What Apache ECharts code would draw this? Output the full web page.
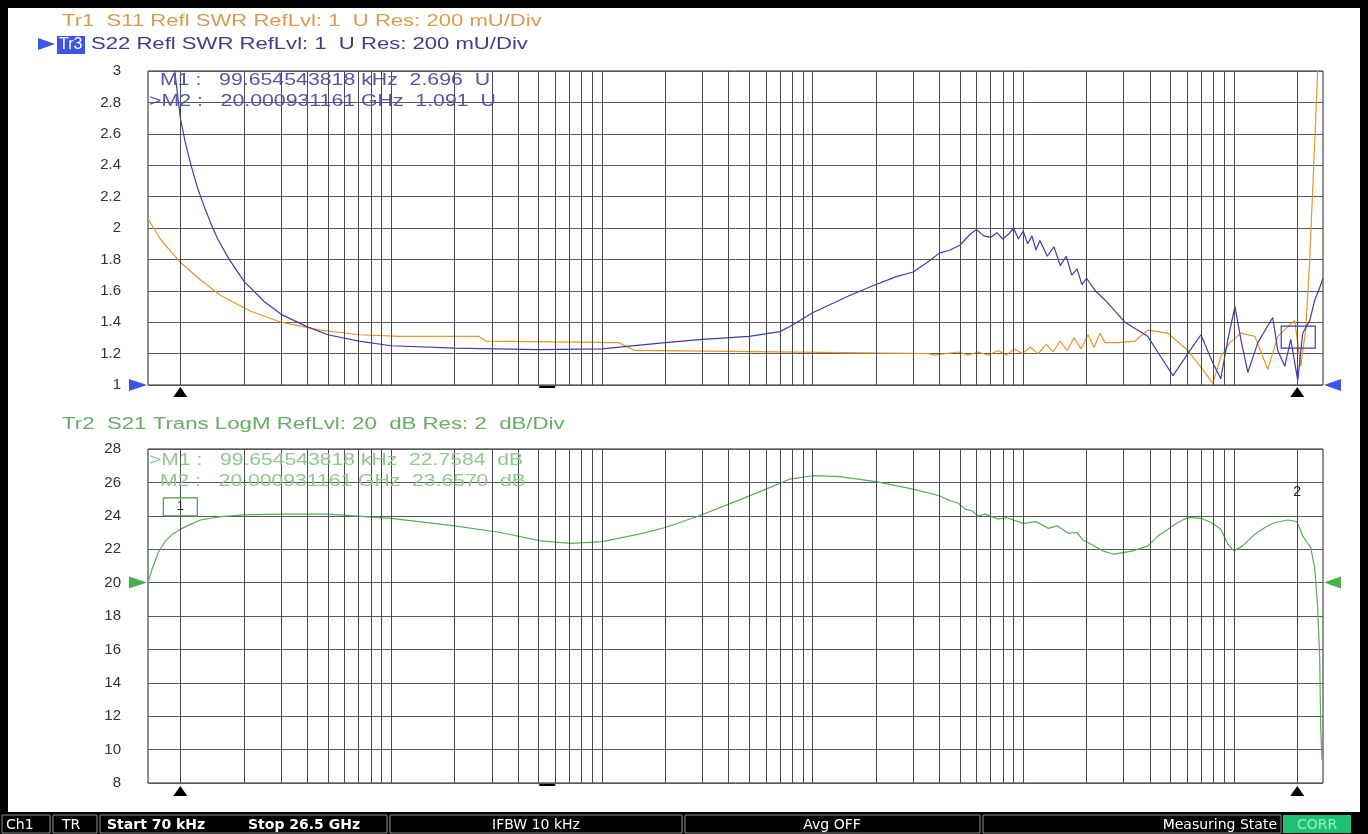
<!DOCTYPE html>
<html>
<head>
<meta charset="utf-8">
<title>S11 / S22 / S21 sweep</title>
<script src="https://cdn.jsdelivr.net/npm/echarts@6/dist/echarts.min.js"></script>
<style>
html, body { margin: 0; padding: 0; background: #000; }
#main { width: 1368px; height: 834px; }
</style>
</head>
<body>
<div id="main"></div>
<script>
// frequencies in MHz, sweep 70 kHz .. 26.5 GHz (log)
var s11Freq = [0.07, 0.08, 0.09, 0.1, 0.124, 0.155, 0.215, 0.3, 0.46, 0.71, 1.1, 2.6, 2.8, 12, 14.3, 87, 355,
    378, 492, 548, 611, 683, 761, 831, 906, 988, 1079, 1178, 1285, 1388, 1497, 1616, 1744, 1883, 2033, 2170,
    2318, 2446, 2820, 3393, 3911, 4863, 6053, 7290, 7950, 8674, 9577, 10800, 12580, 14490, 16170, 18030,
    19460, 20780, 21940, 22920, 23940, 25010, 26000];
var s11Swr = [2.06, 1.93, 1.85, 1.78, 1.67, 1.57, 1.47, 1.40, 1.35, 1.32, 1.31, 1.31, 1.28, 1.27, 1.22, 1.21, 1.20,
    1.19, 1.21, 1.19, 1.21, 1.19, 1.22, 1.19, 1.23, 1.20, 1.24, 1.20, 1.26, 1.21, 1.28, 1.22, 1.30, 1.23, 1.32, 1.24,
    1.33, 1.27, 1.27, 1.28, 1.35, 1.33, 1.22, 1.08, 1.01, 1.18, 1.27, 1.33, 1.31, 1.10, 1.31, 1.37,
    1.41, 1.12, 1.35, 1.80, 2.40, 3.0, 3.4];

var s22Freq = [0.07, 0.09, 0.0997, 0.105, 0.112, 0.12, 0.13, 0.14, 0.15, 0.17, 0.2, 0.25, 0.3, 0.4, 0.5, 0.7, 1, 2, 5,
    10, 20, 30, 50, 70, 80, 100, 150, 200, 250, 300, 350, 400, 450, 500, 560, 600, 650, 700, 750, 800, 850, 900,
    950, 1000, 1050, 1100, 1150, 1200, 1300, 1400, 1500, 1600, 1700, 1800, 1900, 2000, 2200, 2450, 3040, 3900,
    4500, 5140, 6050, 6980, 7950, 8670, 9370, 10120, 10800, 11650, 13000, 15300, 16170, 17450, 18630, 20110,
    21230, 22920, 24200, 25560, 26500];
var s22Swr = [4.6, 3.2, 2.7, 2.55, 2.40, 2.26, 2.13, 2.02, 1.93, 1.80, 1.66, 1.53, 1.45, 1.37, 1.32, 1.28, 1.25, 1.235, 1.225,
    1.23, 1.27, 1.29, 1.31, 1.34, 1.38, 1.46, 1.57, 1.64, 1.69, 1.72, 1.78, 1.84, 1.86, 1.89, 1.96, 1.99, 1.95, 1.94, 1.97, 1.93, 1.96, 2.0,
    1.93, 1.98, 1.90, 1.95, 1.86, 1.92, 1.82, 1.88, 1.76, 1.82, 1.70, 1.74, 1.64, 1.68, 1.60, 1.54, 1.40, 1.31,
    1.18, 1.06, 1.20, 1.32, 1.14, 1.04, 1.29, 1.50, 1.29, 1.08, 1.27, 1.43, 1.22, 1.12, 1.29, 1.03,
    1.33, 1.41, 1.54, 1.62, 1.68];

var s21Freq = [0.07, 0.0732, 0.0783, 0.0847, 0.0915, 0.1, 0.112, 0.124, 0.155, 0.2, 0.3, 0.5, 1, 2, 3.3, 5.1, 7.1, 10,
    15, 20, 29, 46, 63, 78, 100, 134, 200, 300, 400, 450, 492, 530, 570, 611, 660, 761, 830, 1000, 1150, 1313,
    1450, 1634, 1800, 1924, 2033, 2390, 2676, 2980, 3320, 3911, 4370, 4863, 5420, 6053, 6977, 7800, 8674, 9370,
    10000, 11000, 12580, 14040, 15650, 18030, 19900, 21230, 23170, 24200, 25010, 25560, 25850, 26200];
var s21Db = [20.0, 20.8, 21.8, 22.5, 22.9, 23.2, 23.5, 23.75, 23.95, 24.05, 24.1, 24.1, 23.85, 23.4, 23.0, 22.5, 22.35, 22.45,
    22.9, 23.3, 24.0, 25.0, 25.7, 26.2, 26.4, 26.35, 26.05, 25.6, 25.2, 24.9, 24.75, 24.4, 24.3, 24.0, 24.1, 23.8, 23.9, 23.55, 23.65, 23.25,
    23.4, 22.95, 23.0, 22.55, 22.4, 21.9, 21.7, 21.8, 21.9, 22.2, 22.8, 23.2, 23.6, 23.9, 23.85, 23.6, 23.2, 22.3,
    21.9, 22.2, 22.9, 23.3, 23.6, 23.75, 23.66, 22.8, 22.1, 20.9, 18.5, 15.5, 11.3, 9.4];

// log grid: 1..9 per decade
var gridDecades = [0.1, 1, 10, 100, 1000, 10000];
var gridSteps = [1, 2, 3, 4, 5, 6, 7, 8, 9];

var markerFreq = [0.099654543818, 20000.931161];

function zip(xs, ys) {
    return xs.map(function (x, i) { return [x, ys[i]]; });
}

var gridFreqs = [];
gridDecades.forEach(function (d) {
    gridSteps.forEach(function (s) {
        var f = +(d * s).toPrecision(6);
        if (f <= 26500) gridFreqs.push(f);
    });
});

var FONT = '"Liberation Sans", Arial, sans-serif';

window.onload = function () {
    var myChart = echarts.init(document.getElementById('main'));

    function gridLines(idx) {
        return {
            type: 'line', xAxisIndex: idx, yAxisIndex: idx, data: [], silent: true, z: 1,
            markLine: {
                symbol: ['none', 'none'], silent: true, animation: false,
                label: { show: false },
                lineStyle: { color: '#4a4a4a', width: 1, type: 'solid' },
                emphasis: { disabled: true },
                data: gridFreqs.map(function (f) { return { xAxis: f }; })
            }
        };
    }

    function xAxis(idx) {
        return {
            type: 'log', logBase: 10, gridIndex: idx, min: 0.07, max: 26500,
            axisLine: { show: false }, axisTick: { show: false },
            axisLabel: { show: false }, splitLine: { show: false }
        };
    }

    function yAxis(idx, min, max, step) {
        return {
            type: 'value', gridIndex: idx, min: min, max: max, interval: step,
            axisLine: { show: false }, axisTick: { show: false },
            axisLabel: { color: '#333', fontSize: 15, fontFamily: FONT, margin: 27 },
            splitLine: { show: true, lineStyle: { color: '#5a5a5a', width: 1 } }
        };
    }

    var option = {
        backgroundColor: '#fff',
        animation: false,
        textStyle: { fontFamily: FONT },
        grid: [
            { left: 148, right: 45, top: 71, height: 314, show: true, borderColor: '#222', borderWidth: 1 },
            { left: 148, right: 45, top: 449, height: 334, show: true, borderColor: '#222', borderWidth: 1 }
        ],
        xAxis: [xAxis(0), xAxis(1)],
        yAxis: [yAxis(0, 1, 3, 0.2), yAxis(1, 8, 28, 2)],
        series: [
            gridLines(0),
            gridLines(1),
            {
                name: 'S11', type: 'line', xAxisIndex: 0, yAxisIndex: 0, z: 3,
                showSymbol: false, symbol: 'none',
                lineStyle: { color: '#e8952b', width: 1.2 },
                data: zip(s11Freq, s11Swr)
            },
            {
                name: 'S22', type: 'line', xAxisIndex: 0, yAxisIndex: 0, z: 4,
                showSymbol: false, symbol: 'none',
                lineStyle: { color: '#3c3cb4', width: 1.2 },
                data: zip(s22Freq, s22Swr)
            },
            {
                name: 'S21', type: 'line', xAxisIndex: 1, yAxisIndex: 1, z: 3,
                showSymbol: false, symbol: 'none',
                lineStyle: { color: '#5aab5a', width: 1.2 },
                data: zip(s21Freq, s21Db)
            }
        ]
    };

    myChart.setOption(option);

    function px(g, f, v) { return myChart.convertToPixel({ gridIndex: g }, [f, v]); }
    function txt(x, y, s, color, size, opt) {
        opt = opt || {};
        return {
            type: 'text', x: x, y: y, scaleX: opt.sx || 1, z: opt.z || 20,
            style: {
                text: s, fill: color, font: (opt.bold ? 'bold ' : '') + size + 'px ' + (opt.family || FONT),
                align: opt.align || 'left', verticalAlign: 'middle',
                textAlign: opt.align || 'left', textVerticalAlign: 'middle'
            }
        };
    }
    function tri(pts, color) {
        return { type: 'polygon', z: 20, shape: { points: pts }, style: { fill: color } };
    }

    var g = [];
    // black frame
    g.push({ type: 'rect', z: 30, shape: { x: 0, y: 0, width: 1368, height: 8 }, style: { fill: '#000' } });
    g.push({ type: 'rect', z: 30, shape: { x: 0, y: 0, width: 8, height: 834 }, style: { fill: '#000' } });
    g.push({ type: 'rect', z: 30, shape: { x: 1360, y: 0, width: 8, height: 834 }, style: { fill: '#000' } });
    g.push({ type: 'rect', z: 30, shape: { x: 0, y: 812, width: 1368, height: 22 }, style: { fill: '#000' } });

    // trace headers
    g.push(txt(62, 22, 'Tr1  S11 Refl SWR RefLvl: 1  U Res: 200 mU/Div', '#d79c4e', 16, { sx: 1.38 }));
    g.push(tri([[38, 38], [38, 50], [55, 44]], '#3a55ee'));
    g.push({ type: 'rect', z: 20, shape: { x: 57, y: 36, width: 28, height: 18 }, style: { fill: '#3a55e6' } });
    g.push(txt(59, 45, 'Tr3', '#fff', 16, { sx: 1.0 }));
    g.push(txt(91, 45, 'S22 Refl SWR RefLvl: 1  U Res: 200 mU/Div', '#3d3d8e', 16, { sx: 1.38 }));
    g.push(txt(62, 425, 'Tr2  S21 Trans LogM RefLvl: 20  dB Res: 2  dB/Div', '#68ac68', 16, { sx: 1.39 }));

    // marker readouts
    g.push(txt(160, 81, 'M1 :   99.654543818 kHz  2.696  U', '#5656a6', 16, { sx: 1.33 }));
    g.push(txt(149, 102, '>M2 :   20.000931161 GHz  1.091  U', '#5656a6', 16, { sx: 1.33 }));
    g.push(txt(149, 461, '>M1 :   99.654543818 kHz  22.7584  dB', '#90c890', 16, { sx: 1.32 }));
    g.push(txt(160, 482, 'M2 :   20.000931161 GHz  23.6570  dB', '#90c890', 16, { sx: 1.32 }));

    // axis ends
    var u0 = px(0, 0.07, 1), u1 = px(0, 26500, 1);
    var l0 = px(1, 0.07, 20), l1 = px(1, 26500, 20);
    g.push(tri([[129, u0[1] - 6], [129, u0[1] + 6], [147, u0[1]]], '#3a55ee'));
    g.push(tri([[1341, u1[1] - 6], [1341, u1[1] + 6], [1324, u1[1]]], '#3a55ee'));
    g.push(tri([[129, l0[1] - 6], [129, l0[1] + 6], [147, l0[1]]], '#4caf4c'));
    g.push(tri([[1341, l1[1] - 6], [1341, l1[1] + 6], [1324, l1[1]]], '#4caf4c'));

    // marker triangles below both diagrams
    markerFreq.forEach(function (f) {
        var a = px(0, f, 1), b = px(1, f, 8);
        g.push(tri([[a[0] - 7, a[1] + 12], [a[0] + 7, a[1] + 12], [a[0], a[1] + 2]], '#000'));
        g.push(tri([[b[0] - 7, b[1] + 13], [b[0] + 7, b[1] + 13], [b[0], b[1] + 3]], '#000'));
    });

    // small dashes on bottom edges
    var d0 = px(0, 5.5, 1), d1 = px(1, 5.5, 8);
    g.push({ type: 'line', z: 20, shape: { x1: d0[0] - 8, y1: d0[1] + 2, x2: d0[0] + 8, y2: d0[1] + 2 }, style: { stroke: '#000', lineWidth: 2 } });
    g.push({ type: 'line', z: 20, shape: { x1: d1[0] - 8, y1: d1[1] + 2, x2: d1[0] + 8, y2: d1[1] + 2 }, style: { stroke: '#000', lineWidth: 2 } });

    // marker labels
    var m1 = px(1, markerFreq[0], 24);
    g.push({ type: 'rect', z: 20, shape: { x: m1[0] - 17, y: m1[1] - 18, width: 34, height: 18 },
        style: { fill: 'none', stroke: '#4a9a4a', lineWidth: 1.2 } });
    g.push(txt(m1[0], m1[1] - 9, '1', '#222', 13, { align: 'center' }));
    var m2 = px(1, markerFreq[1], 26);
    g.push(txt(m2[0], m2[1] + 10, '2', '#222', 14, { align: 'center' }));
    var m2u = px(0, markerFreq[1], 1.4);
    g.push({ type: 'rect', z: 20, shape: { x: m2u[0] - 16, y: m2u[1] + 4, width: 34, height: 22 },
        style: { fill: 'none', stroke: '#3c3cb4', lineWidth: 1.2 } });

    // status bar
    var SB = 'DejaVu Sans, Verdana, sans-serif';
    var boxes = [[2, 48], [53, 44], [100, 287], [390, 292], [685, 295], [983, 298]];
    boxes.forEach(function (b) {
        g.push({ type: 'rect', z: 31, shape: { x: b[0], y: 815, width: b[1], height: 18 },
            style: { fill: '#000', stroke: '#8a8a8a', lineWidth: 1 } });
    });
    g.push({ type: 'rect', z: 31, shape: { x: 1283, y: 815, width: 68, height: 18 }, style: { fill: '#1fbf74' } });
    g.push(txt(6, 825, 'Ch1', '#fff', 14, { family: SB, z: 35 }));
    g.push(txt(62, 825, 'TR', '#fff', 14, { family: SB, z: 35 }));
    g.push(txt(107, 825, 'Start 70 kHz', '#fff', 14, { family: SB, z: 35, bold: true }));
    g.push(txt(248, 825, 'Stop 26.5 GHz', '#fff', 14, { family: SB, z: 35, bold: true }));
    g.push(txt(536, 825, 'IFBW 10 kHz', '#fff', 14, { family: SB, z: 35, align: 'center' }));
    g.push(txt(832, 825, 'Avg OFF', '#fff', 14, { family: SB, z: 35, align: 'center' }));
    g.push(txt(1277, 825, 'Measuring State', '#fff', 14, { family: SB, z: 35, align: 'right' }));
    g.push(txt(1317, 825, 'CORR', '#8ff0c0', 14, { family: SB, z: 35, align: 'center' }));

    myChart.setOption({ graphic: { elements: g } });
};
</script>
</body>
</html>
